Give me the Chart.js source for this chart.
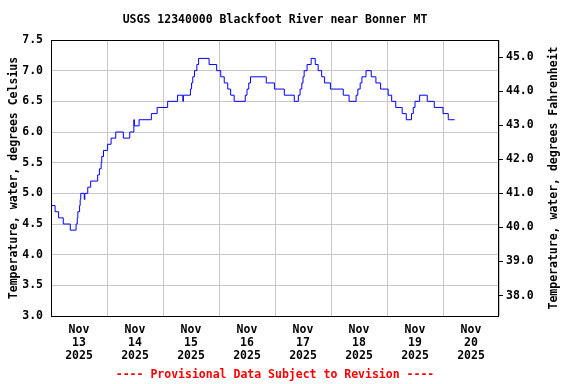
<!DOCTYPE html>
<html lang="en">

<head>
  <meta charset="UTF-8">
  <title>USGS 12340000 Blackfoot River near Bonner MT</title>
  <script src="https://cdn.jsdelivr.net/npm/chart.js"></script>
  <style>
    body { margin: 0; background: #fff; }
  </style>
</head>

<body>
  <canvas id="tempChart" width="576" height="384"></canvas>
  <script>
    // hours since Nov 13 2025 00:00, where the reading changes
    const hours = [0, 1.75, 3.25, 5.25, 8.25, 10.75, 11.25, 11.5, 12.25, 12.5, 12.75, 14.25, 14.5, 15.75, 17,
      20, 20.75, 21.5, 21.75, 22.5, 24.25, 25.75, 27.75, 31, 33.75, 35.5, 35.75, 37.75, 43, 45.5, 50, 54.25,
      56.5, 56.75, 59.75, 60.25, 60.75, 61.5, 62.5, 63.25, 67.75, 71, 72.75, 74.25, 75.75, 77, 78.5, 83.25,
      84, 84.75, 85.5, 92.25, 95.75, 100, 104.25, 106, 106.75, 107.5, 108, 108.5, 109.75, 111.5, 113.25,
      114.5, 116, 117.25, 119.75, 125.25, 127.75, 130.75, 131.5, 132.5, 133.25, 135, 137.25, 139.25, 141.25,
      144.5, 146, 147.75, 150.5, 152.25, 154.5, 155.25, 156, 158, 161.25, 164.25, 168, 170.25, 173];
    // water temperature, degrees Celsius
    const tempC = [4.8, 4.7, 4.6, 4.5, 4.4, 4.5, 4.6, 4.7, 4.8, 4.9, 5.0, 4.9, 5.0, 5.1, 5.2,
      5.3, 5.4, 5.5, 5.6, 5.7, 5.8, 5.9, 6.0, 5.9, 6.0, 6.2, 6.1, 6.2, 6.3, 6.4, 6.5, 6.6,
      6.5, 6.6, 6.7, 6.8, 6.9, 7.0, 7.1, 7.2, 7.1, 7.0, 6.9, 6.8, 6.7, 6.6, 6.5, 6.6,
      6.7, 6.8, 6.9, 6.8, 6.7, 6.6, 6.5, 6.6, 6.7, 6.8, 6.9, 7.0, 7.1, 7.2, 7.1,
      7.0, 6.9, 6.8, 6.7, 6.6, 6.5, 6.6, 6.7, 6.8, 6.9, 7.0, 6.9, 6.8, 6.7,
      6.6, 6.5, 6.4, 6.3, 6.2, 6.3, 6.4, 6.5, 6.6, 6.5, 6.4, 6.3, 6.2, 6.2];

    const monthLabel = 'Nov';
    const dayLabels = ['13', '14', '15', '16', '17', '18', '19', '20'];
    const yearLabel = '2025';
    const fahrenheitTicks = [38, 39, 40, 41, 42, 43, 44, 45];

    const titleText = 'USGS 12340000 Blackfoot River near Bonner MT';
    const leftTitle = 'Temperature, water, degrees Celsius';
    const rightTitle = 'Temperature, water, degrees Fahrenheit';
    const footText = '---- Provisional Data Subject to Revision ----';

    const FONT = '"DejaVu Sans Mono", monospace';
    const gridColor = '#c8c8c8';
    const toF = c => c * 9 / 5 + 32;

    // frame round the plot, plus title, footer and right axis title
    const frame = {
      id: 'frame',
      afterDraw(chart) {
        const { ctx, chartArea: a } = chart;
        const midX = (a.left + a.right) / 2;
        ctx.save();
        ctx.strokeStyle = '#000';
        ctx.lineWidth = 1;
        ctx.strokeRect(Math.round(a.left) + 0.5, Math.round(a.top) + 0.5,
          Math.round(a.right - a.left) - 1, Math.round(a.bottom - a.top));

        ctx.font = 'bold 11.5px ' + FONT;
        ctx.textAlign = 'center';
        ctx.textBaseline = 'middle';
        ctx.fillStyle = '#000';
        ctx.fillText(titleText, midX, 20);
        ctx.fillStyle = '#ff0000';
        ctx.fillText(footText, midX, 375);

        // right axis title reads bottom to top
        ctx.fillStyle = '#000';
        ctx.translate(554, (a.top + a.bottom) / 2);
        ctx.rotate(-Math.PI / 2);
        ctx.fillText(rightTitle, 0, 0);
        ctx.restore();
      }
    };

    const ctx = document.getElementById('tempChart').getContext('2d');
    new Chart(ctx, {
      type: 'line',
      data: {
        datasets: [{
          data: hours.map((h, i) => ({ x: h, y: tempC[i] })),
          borderColor: '#0000ff',
          borderWidth: 1,
          stepped: 'before',
          pointRadius: 0,
          fill: false,
          yAxisID: 'y'
        }]
      },
      options: {
        responsive: false,
        animation: false,
        layout: { padding: { top: 40, bottom: 0, left: 0, right: 0 } },
        plugins: {
          legend: { display: false },
          tooltip: { enabled: false }
        },
        scales: {
          x: {
            type: 'linear',
            min: 0,
            max: 192,
            border: { display: false },
            grid: {
              color: c => (c.tick && c.tick.value % 24 === 0) ? gridColor : 'rgba(0,0,0,0)',
              drawTicks: false
            },
            ticks: {
              stepSize: 12,
              autoSkip: false,
              maxRotation: 0,
              padding: 7,
              color: '#000',
              font: { family: FONT, size: 11.5, weight: 'bold', lineHeight: 1.15 },
              callback: v => v % 24 === 12 ? [monthLabel, dayLabels[(v - 12) / 24], yearLabel] : ''
            },
            afterFit: s => { s.height = 68; }
          },
          y: {
            position: 'left',
            min: 3,
            max: 7.5,
            border: { display: false },
            grid: { color: gridColor, drawTicks: false },
            ticks: {
              stepSize: 0.5,
              padding: 8,
              color: '#000',
              font: { family: FONT, size: 11.5, weight: 'bold' },
              callback: v => v.toFixed(1)
            },
            title: {
              display: true,
              text: leftTitle,
              color: '#000',
              font: { family: FONT, size: 11.5, weight: 'bold', lineHeight: 1.2 },
              padding: { top: 7, bottom: 0 }
            },
            afterFit: s => { s.width = 51; }
          },
          y1: {
            position: 'right',
            min: toF(3),
            max: toF(7.5),
            border: { display: false },
            grid: { drawOnChartArea: false, drawTicks: true, tickLength: 4, tickColor: '#000' },
            afterBuildTicks: s => { s.ticks = fahrenheitTicks.map(v => ({ value: v })); },
            ticks: {
              padding: 3,
              color: '#000',
              font: { family: FONT, size: 11.5, weight: 'bold' },
              callback: v => Number(v).toFixed(1)
            },
            afterFit: s => { s.width = 77; }
          }
        }
      },
      plugins: [frame]
    });
  </script>
</body>

</html>
